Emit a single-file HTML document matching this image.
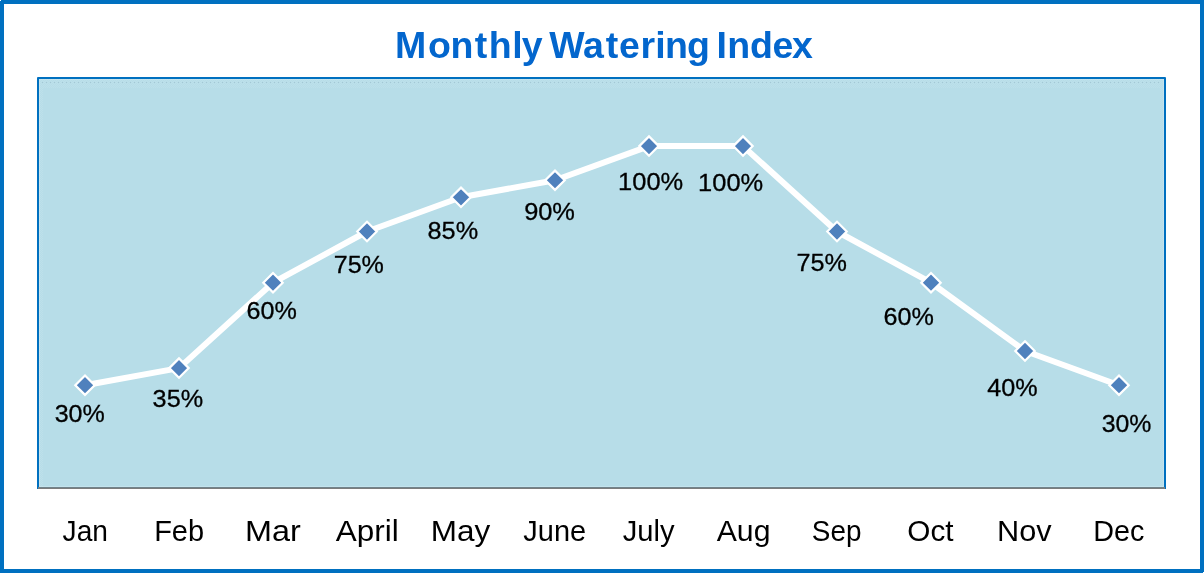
<!DOCTYPE html>
<html lang="en"><head><meta charset="utf-8"><title>Monthly Watering Index</title>
<style>
html,body{margin:0;padding:0;background:#fff;}
body{width:1204px;height:573px;overflow:hidden;}
svg{display:block;}
text{font-family:"Liberation Sans",sans-serif;}
.t{font-weight:bold;fill:#0366CD;}
.l{fill:#000;stroke:#000;stroke-width:0.3px;}.a{fill:#000;}
</style></head><body>
<svg width="1204" height="573" viewBox="0 0 1204 573">
<rect x="0" y="0" width="1204" height="573" fill="#fff"/>
<rect x="2" y="2" width="1200" height="569" fill="none" stroke="#0070C0" stroke-width="4"/>
<rect x="0" y="0" width="1" height="1" fill="#fff"/><rect x="1203" y="572" width="1" height="1" fill="#fff"/>
<rect x="38" y="78" width="1127" height="410" fill="#B7DDE8" stroke="#0070C0" stroke-width="2" stroke-linejoin="round"/>
<defs><pattern id="chk" width="2" height="2" patternUnits="userSpaceOnUse"><rect x="0" y="0" width="1" height="1" fill="#fff" fill-opacity="0.09"/><rect x="1" y="1" width="1" height="1" fill="#fff" fill-opacity="0.09"/></pattern><pattern id="dot" x="42" y="82" width="4" height="1" patternUnits="userSpaceOnUse"><rect x="0" y="0" width="1" height="1" fill="#6F95A6" fill-opacity="0.33"/></pattern></defs>
<rect x="39" y="79" width="1125" height="9" fill="url(#chk)"/>
<rect x="39" y="88" width="4" height="399" fill="url(#chk)"/>
<rect x="1160" y="88" width="4" height="399" fill="url(#chk)"/>
<rect x="42" y="82" width="1120" height="1" fill="url(#dot)"/>
<rect x="39.5" y="79.5" width="1124" height="407" fill="none" stroke="#fff" stroke-opacity="0.18" stroke-width="1"/>
<rect x="38" y="487" width="1127" height="1" fill="#70838B"/><rect x="38" y="488" width="1127" height="1" fill="#7C7C7C"/>
<rect x="1165" y="487" width="1" height="2" fill="#0070C0"/><rect x="37" y="487" width="1" height="2" fill="#0070C0"/>
<polyline fill="none" stroke="#fff" stroke-width="6" stroke-linejoin="round" stroke-linecap="round" points="85.0,385.2 179.0,368.1 273.0,282.7 367.0,231.5 461.0,197.3 555.0,180.2 649.0,146.1 743.0,146.1 837.0,231.5 931.0,282.7 1025.0,351.0 1119.0,385.2"/>
<polygon points="85.0,375.5 94.7,385.2 85.0,394.9 75.3,385.2" fill="#4F81BD" stroke="#fff" stroke-width="2.2"/>
<polygon points="179.0,358.4 188.7,368.1 179.0,377.8 169.3,368.1" fill="#4F81BD" stroke="#fff" stroke-width="2.2"/>
<polygon points="273.0,273.0 282.7,282.7 273.0,292.4 263.3,282.7" fill="#4F81BD" stroke="#fff" stroke-width="2.2"/>
<polygon points="367.0,221.8 376.7,231.5 367.0,241.2 357.3,231.5" fill="#4F81BD" stroke="#fff" stroke-width="2.2"/>
<polygon points="461.0,187.6 470.7,197.3 461.0,207.0 451.3,197.3" fill="#4F81BD" stroke="#fff" stroke-width="2.2"/>
<polygon points="555.0,170.6 564.7,180.2 555.0,189.9 545.3,180.2" fill="#4F81BD" stroke="#fff" stroke-width="2.2"/>
<polygon points="649.0,136.4 658.7,146.1 649.0,155.8 639.3,146.1" fill="#4F81BD" stroke="#fff" stroke-width="2.2"/>
<polygon points="743.0,136.4 752.7,146.1 743.0,155.8 733.3,146.1" fill="#4F81BD" stroke="#fff" stroke-width="2.2"/>
<polygon points="837.0,221.8 846.7,231.5 837.0,241.2 827.3,231.5" fill="#4F81BD" stroke="#fff" stroke-width="2.2"/>
<polygon points="931.0,273.0 940.7,282.7 931.0,292.4 921.3,282.7" fill="#4F81BD" stroke="#fff" stroke-width="2.2"/>
<polygon points="1025.0,341.3 1034.7,351.0 1025.0,360.7 1015.3,351.0" fill="#4F81BD" stroke="#fff" stroke-width="2.2"/>
<polygon points="1119.0,375.5 1128.7,385.2 1119.0,394.9 1109.3,385.2" fill="#4F81BD" stroke="#fff" stroke-width="2.2"/>
<text class="t" font-size="37.50" y="57.7"><tspan x="394.9 427.9 450.5 474.8 488.8 512.3 521.7">Monthly</tspan> <tspan x="549.3 583.1 605.8 619.1 640.5 655.2 665.1 687.0">Watering</tspan> <tspan x="716.5 727.3 750.1 772.6 792.0">Index</tspan></text>
<text class="l" font-size="24.70" x="54.65" y="421.9" textLength="50.11" lengthAdjust="spacingAndGlyphs">30%</text>
<text class="l" font-size="24.70" x="152.61" y="406.6" textLength="50.48" lengthAdjust="spacingAndGlyphs">35%</text>
<text class="l" font-size="24.70" x="246.57" y="318.8" textLength="50.34" lengthAdjust="spacingAndGlyphs">60%</text>
<text class="l" font-size="24.70" x="333.72" y="272.9" textLength="50.20" lengthAdjust="spacingAndGlyphs">75%</text>
<text class="l" font-size="24.70" x="427.56" y="238.7" textLength="50.59" lengthAdjust="spacingAndGlyphs">85%</text>
<text class="l" font-size="24.70" x="524.15" y="219.5" textLength="50.81" lengthAdjust="spacingAndGlyphs">90%</text>
<text class="l" font-size="24.70" x="618.14" y="190.2" textLength="65.09" lengthAdjust="spacingAndGlyphs">100%</text>
<text class="l" font-size="24.70" x="698.14" y="190.6" textLength="65.09" lengthAdjust="spacingAndGlyphs">100%</text>
<text class="l" font-size="24.70" x="796.59" y="270.7" textLength="50.43" lengthAdjust="spacingAndGlyphs">75%</text>
<text class="l" font-size="24.70" x="883.51" y="324.8" textLength="50.35" lengthAdjust="spacingAndGlyphs">60%</text>
<text class="l" font-size="24.70" x="987.32" y="395.9" textLength="50.38" lengthAdjust="spacingAndGlyphs">40%</text>
<text class="l" font-size="24.70" x="1101.68" y="431.7" textLength="49.72" lengthAdjust="spacingAndGlyphs">30%</text>
<text class="a" font-size="30.00" x="62.58" y="540.9" textLength="45.35" lengthAdjust="spacingAndGlyphs">Jan</text>
<text class="a" font-size="30.00" x="154.14" y="540.9" textLength="49.89" lengthAdjust="spacingAndGlyphs">Feb</text>
<text class="a" font-size="30.00" x="244.98" y="540.9" textLength="55.74" lengthAdjust="spacingAndGlyphs">Mar</text>
<text class="a" font-size="30.00" x="335.84" y="540.9" textLength="62.95" lengthAdjust="spacingAndGlyphs">April</text>
<text class="a" font-size="30.00" x="430.82" y="540.9" textLength="59.44" lengthAdjust="spacingAndGlyphs">May</text>
<text class="a" font-size="30.00" x="523.30" y="540.9" textLength="62.80" lengthAdjust="spacingAndGlyphs">June</text>
<text class="a" font-size="30.00" x="622.80" y="540.9" textLength="51.83" lengthAdjust="spacingAndGlyphs">July</text>
<text class="a" font-size="30.00" x="716.72" y="540.9" textLength="53.78" lengthAdjust="spacingAndGlyphs">Aug</text>
<text class="a" font-size="30.00" x="811.85" y="540.9" textLength="49.60" lengthAdjust="spacingAndGlyphs">Sep</text>
<text class="a" font-size="30.00" x="907.29" y="540.9" textLength="46.22" lengthAdjust="spacingAndGlyphs">Oct</text>
<text class="a" font-size="30.00" x="997.09" y="540.9" textLength="54.58" lengthAdjust="spacingAndGlyphs">Nov</text>
<text class="a" font-size="30.00" x="1093.18" y="540.9" textLength="51.14" lengthAdjust="spacingAndGlyphs">Dec</text>
</svg>
</body></html>
